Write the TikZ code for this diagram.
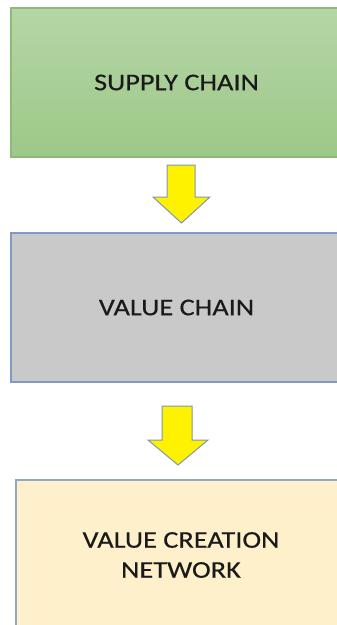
\documentclass[tikz,border=0pt]{standalone}
\usepackage{fontspec}
\newfontfamily\boxfont[FakeStretch=1.18,FakeBold=0.4]{Carlito}
\usetikzlibrary{calc}
\definecolor{greentop}{HTML}{B5D6A7}
\definecolor{greenbot}{HTML}{9DC888}
\definecolor{greenline}{HTML}{8CBB78}
\definecolor{grayfill}{HTML}{C9C9C9}
\definecolor{blueline}{HTML}{7F9BBF}
\definecolor{creamfill}{HTML}{FFF0CC}
\definecolor{creamline}{HTML}{8FA9C8}
\definecolor{arrowline}{HTML}{7E97B5}
\definecolor{labeltext}{HTML}{1A1A1A}
\tikzset{
  stage/.style={draw, line width=1.2pt, minimum width=331pt, minimum height=149pt,
    inner sep=0pt, text=labeltext, align=center,
    font=\boxfont\fontsize{24}{30}\selectfont},
  blockarrow/.style={fill=yellow, draw=arrowline, line width=1pt, line join=miter}
}
\begin{document}
\begin{tikzpicture}[x=1pt, y=-1pt]
  \useasboundingbox (0,0) rectangle (337,625);
  \clip (0,0) rectangle (337,625);
  \fill[white] (0,0) rectangle (337,625);

  % the three stages
  \node[stage, draw=greenline, top color=greentop, bottom color=greenbot]
    (supply) at (176.5,82.5) {SUPPLY CHAIN};
  \node[stage, draw=blueline, fill=grayfill]
    (value) at (176.5,307.5) {VALUE CHAIN};
  \node[stage, draw=creamline, fill=creamfill, minimum width=330pt, minimum height=150pt]
    (network) at (181,555) {VALUE CREATION\\NETWORK};

  % block arrows between the stages
  \draw[blockarrow] (167,165) -- (195,165) -- (195,197) -- (210,197) -- (181.5,223)
    -- (153,197) -- (167,197) -- cycle;
  \draw[blockarrow] (162,406) -- (192,406) -- (192,440) -- (208,440) -- (178,465)
    -- (148,440) -- (162,440) -- cycle;
\end{tikzpicture}
\end{document}
